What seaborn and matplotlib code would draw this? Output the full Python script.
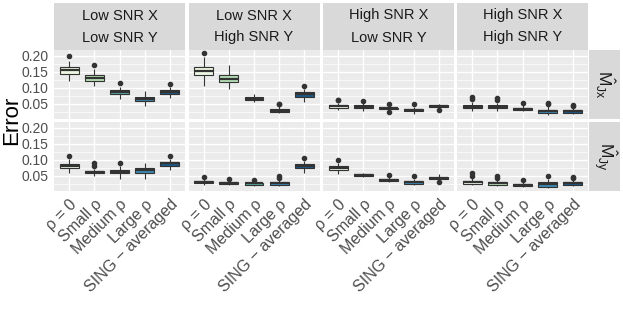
import numpy as np
import pandas as pd
import matplotlib
matplotlib.use("Agg")
import matplotlib.pyplot as plt
import seaborn as sns
from matplotlib.patches import Rectangle
from matplotlib.ticker import FixedLocator

sns.set_style("white")
plt.rcParams["font.family"] = ["Liberation Sans", "DejaVu Sans"]
plt.rcParams["mathtext.fontset"] = "custom"
plt.rcParams["mathtext.rm"] = "Liberation Sans"
plt.rcParams["mathtext.it"] = "Liberation Sans:italic"

# ---------------- data ----------------
categories = ["ρ = 0", "Small ρ", "Medium ρ", "Large ρ", "SING − averaged"]
col_top = ["Low SNR X", "Low SNR X", "High SNR X", "High SNR X"]
col_bottom = ["Low SNR Y", "High SNR Y", "Low SNR Y", "High SNR Y"]
row_labels = [r"$\hat{\mathrm{M}}_{\mathrm{Jx}}$", r"$\hat{\mathrm{M}}_{\mathrm{Jy}}$"]
palette = ["#eef7e3", "#b6e0b7", "#58b1a8", "#3b8ab3", "#1b5a88"]
y_ticks = [0.05, 0.10, 0.15, 0.20]

# five-number summaries per box: [lower whisker, Q1, median, Q3, upper whisker]
jx_lowx_lowy = [[.121, .144, .156, .166, .185], [.105, .123, .132, .141, .159],
                [.0656, .080, .0866, .093, .104], [.043, .060, .067, .073, .090],
                [.069, .081, .0875, .093, .104]]
jx_lowx_lowy_out = [[.201], [.170], [.114], [], [.113]]

jx_lowx_highy = [[.107, .141, .154, .166, .196], [.096, .119, .129, .141, .170],
                 [.055, .0615, .0667, .071, .081], [.021, .024, .029, .033, .045],
                 [.055, .073, .081, .086, .097]]
jx_lowx_highy_out = [[.2085], [], [], [.049, .051], [.107]]

jx_highx_lowy = [[.031, .038, .0427, .047, .054], [.029, .0375, .042, .0455, .052],
                 [.029, .0335, .0366, .039, .046], [.020, .027, .031, .0355, .042],
                 [.036, .0405, .043, .046, .051]]
jx_highx_lowy_out = [[.061, .063], [.059], [.024, .049], [.050], [.030]]

jx_highx_highy = [[.028, .037, .042, .047, .056], [.028, .036, .042, .046, .054],
                  [.027, .031, .0355, .039, .049], [.0167, .021, .027, .032, .044],
                  [.020, .0228, .028, .031, .039]]
jx_highx_highy_out = [[.065, .073], [.063, .069], [.054], [.050, .054], [.044, .047]]

jy_lowx_lowy = [[.0604, .074, .0814, .087, .1025], [.051, .059, .0636, .067, .071],
                [.042, .058, .0636, .0695, .0814], [.0415, .0585, .068, .0752, .092],
                [.069, .082, .090, .094, .1025]]
jy_lowx_lowy_out = [[.111], [.080, .092], [.090], [], [.1135]]

jy_lowx_highy = [[.023, .028, .031, .034, .0405], [.021, .026, .029, .032, .037],
                 [.020, .023, .027, .0285, .033], [.019, .023, .028, .031, .0375],
                 [.0585, .074, .0814, .086, .098]]
jy_lowx_highy_out = [[.046], [.042], [.0375], [.044, .050], [.1066]]

jy_highx_lowy = [[.056, .070, .075, .080, .090], [.046, .049, .053, .056, .060],
                 [.030, .0333, .0375, .0405, .046], [.021, .0248, .030, .034, .041],
                 [.036, .0415, .0447, .0475, .056]]
jy_highx_lowy_out = [[.100], [], [.052], [.049], [.031]]

jy_highx_highy = [[.021, .026, .030, .035, .043], [.019, .0226, .027, .031, .039],
                  [.016, .019, .0226, .025, .031], [.013, .0166, .025, .030, .041],
                  [.019, .0226, .027, .031, .038]]
jy_highx_highy_out = [[.050, .0585], [.044, .050], [.0365], [.051], [.044, .046]]

panel_stats = [[jx_lowx_lowy, jx_lowx_highy, jx_highx_lowy, jx_highx_highy],
               [jy_lowx_lowy, jy_lowx_highy, jy_highx_lowy, jy_highx_highy]]
panel_out = [[jx_lowx_lowy_out, jx_lowx_highy_out, jx_highx_lowy_out, jx_highx_highy_out],
             [jy_lowx_lowy_out, jy_lowx_highy_out, jy_highx_lowy_out, jy_highx_highy_out]]


def sample(st, out):
    """Build 21 values whose boxplot statistics equal the summary `st`."""
    wlo, q1, med, q3, whi = st
    lo = sorted(o for o in out if o < med)
    hi = sorted(o for o in out if o > med)
    lower = lo + [wlo] + [q1] * (5 - len(lo) - 1)
    upper = [q3] * (5 - len(hi) - 1) + [whi] + hi
    return lower + [q1] * 5 + [med] + [q3] * 5 + upper


# ---------------- layout ----------------
W, H = 623, 312
fig = plt.figure(figsize=(W / 100, H / 100), dpi=100)


def rect(x0, y0, x1, y1):
    return [x0 / W, 1 - y1 / H, (x1 - x0) / W, (y1 - y0) / H]


col_x = [(54, 185), (188.5, 319.5), (323, 454), (457, 588)]
row_y = [(50, 119), (122, 191)]
strip_y = (3, 50)
strip_x = (589, 620)
tick_col = "#4D4D4D"

for r in range(2):
    for c in range(4):
        x0, x1 = col_x[c]
        y0, y1 = row_y[r]
        ax = fig.add_axes(rect(x0, y0, x1, y1))
        ax.set_facecolor("#EBEBEB")
        vals, cats = [], []
        for k, cat in enumerate(categories):
            s = sample(panel_stats[r][c][k], panel_out[r][c][k])
            vals += s
            cats += [cat] * len(s)
        df = pd.DataFrame({"method": cats, "error": vals})
        sns.boxplot(data=df, x="method", y="error", hue="method", order=categories,
                    hue_order=categories, palette=palette, saturation=1, width=0.75,
                    linecolor="#333333", linewidth=0.8, fliersize=3, showcaps=False,
                    legend=False, ax=ax,
                    flierprops=dict(marker="o", markerfacecolor="#333333",
                                    markeredgecolor="#333333"),
                    medianprops=dict(linewidth=1.6, color="#333333"))
        ax.set_xlim(-0.6, 4.6)
        ax.set_ylim(0.0032, 0.2183)
        ax.set_yticks(y_ticks)
        ax.yaxis.set_minor_locator(FixedLocator([0.025, 0.075, 0.125, 0.175]))
        ax.set_axisbelow(True)
        ax.grid(which="major", color="white", linewidth=1.0)
        ax.grid(which="minor", axis="y", color="white", linewidth=0.5)
        for sp in ax.spines.values():
            sp.set_visible(False)
        ax.set_xlabel("")
        ax.set_ylabel("")
        ax.tick_params(which="minor", length=0)
        ax.tick_params(which="major", length=2.5, width=0.7, color="#333333", pad=1.5)
        if c == 0:
            ax.set_yticklabels([f"{v:.2f}" for v in y_ticks], fontsize=10, color=tick_col)
        else:
            ax.tick_params(axis="y", length=0, labelleft=False)
        if r == 1:
            ax.set_xticks(range(len(categories)))
            ax.set_xticklabels(categories, rotation=45, ha="right", va="top",
                               rotation_mode="anchor", fontsize=11.5, color=tick_col)
        else:
            ax.set_xticks(range(len(categories)))
            ax.tick_params(axis="x", length=0, labelbottom=False)

# column strips
for c in range(4):
    x0, x1 = col_x[c]
    fig.add_artist(Rectangle((x0 / W, 1 - strip_y[1] / H), (x1 - x0) / W,
                             (strip_y[1] - strip_y[0]) / H, transform=fig.transFigure,
                             facecolor="#D9D9D9", edgecolor="none"))
    xc = (x0 + x1) / 2 / W
    fig.text(xc, 1 - 15.5 / H, col_top[c], ha="center", va="center",
             fontsize=10.5, color="#1A1A1A")
    fig.text(xc, 1 - 37.5 / H, col_bottom[c], ha="center", va="center",
             fontsize=10.5, color="#1A1A1A")

# row strips
for r in range(2):
    y0, y1 = row_y[r]
    fig.add_artist(Rectangle((strip_x[0] / W, 1 - y1 / H), (strip_x[1] - strip_x[0]) / W,
                             (y1 - y0) / H, transform=fig.transFigure,
                             facecolor="#D9D9D9", edgecolor="none"))
    fig.text((strip_x[0] + strip_x[1]) / 2 / W, 1 - (y0 + y1) / 2 / H, row_labels[r],
             rotation=-90, ha="center", va="center", fontsize=12.5, color="#1A1A1A")

fig.text(12 / W, 1 - 120 / H, "Error", rotation=90, ha="center", va="center",
         fontsize=16, color="black")

fig.savefig("out.png", dpi=100)
